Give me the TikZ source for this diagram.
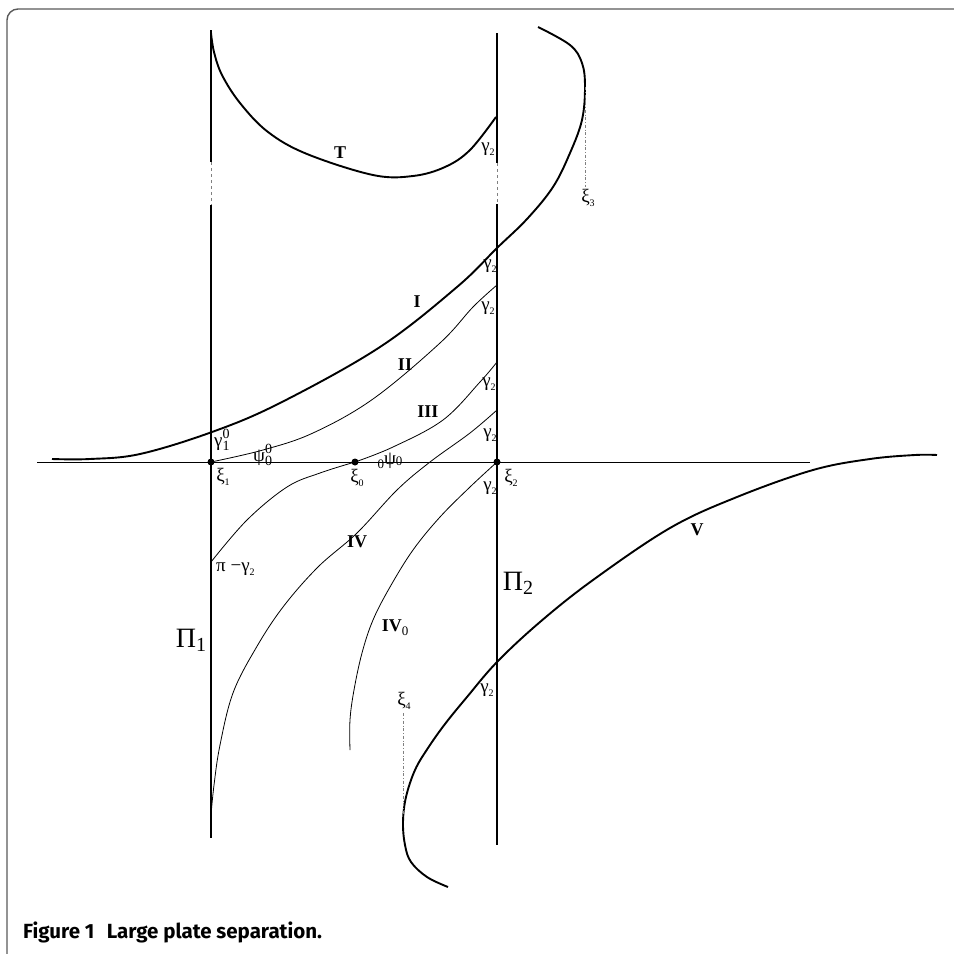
\documentclass[tikz,border=0pt]{standalone}
\usepackage{fontspec}
\setmainfont{Liberation Serif}
\newfontfamily\capfont{Fira Sans}
\newcommand\lsub[1]{\raisebox{-0.45ex}{\fontsize{10}{11}\selectfont #1}}
\newcommand\lsubsup[2]{\rlap{\raisebox{-0.5ex}{\fontsize{14}{15}\selectfont #1}}\raisebox{0.9ex}{\fontsize{14}{15}\selectfont #2}}
\begin{document}
\begin{tikzpicture}[x=1pt,y=-1pt,
  plate/.style={line width=2.4pt},
  thickc/.style={line width=1.9pt},
  thinc/.style={line width=0.8pt},
  gapline/.style={line width=0.5pt,dashed,gray},
  dashdot/.style={line width=0.5pt,dash dot,gray},
  dot/.style={circle,fill,inner sep=0,minimum size=7pt},
  lab/.style={font=\fontsize{19}{20}\selectfont,inner sep=0},
  blab/.style={font=\fontsize{18}{19}\selectfont\bfseries,inner sep=0},
  pilab/.style={font=\fontsize{28}{30}\selectfont,inner sep=0}]
\useasboundingbox (0,0) rectangle (954,954);
% frame
\draw[line width=1.4pt,gray!70!black,rounded corners=11pt] (7,9) rectangle (980,980);
% plates
\draw[plate] (211,30) -- (211,162);
\draw[gapline] (211,162) -- (211,205);
\draw[plate] (211,205) -- (211,838);
\draw[plate] (497,33) -- (497,163);
\draw[gapline] (497,163) -- (497,204);
\draw[plate] (497,204) -- (497,845);
% axis
\draw[thinc] (37,462) -- (810,462);
\node[dot] (xi1) at (211,462) {};
\node[dot] (xi0) at (355,462) {};
\node[dot] (xi2) at (497,462) {};
% curve T
\draw[thickc] plot[smooth,tension=0.6] coordinates {(211,33) (214,52) (222,75) (240,103) (268,132) (307,154) (373,175) (413,176) (445,167) (470,150) (496,117)};
% curve I
\draw[thickc] plot[smooth,tension=0.6] coordinates {(52,459) (90,459) (140,454) (212,432) (280,403) (380,347) (457,287) (497,248) (527,219) (553,187) (570,153) (582,120) (585,87) (582,63) (570,45) (538,27)};
% curve II
\draw[thinc] plot[smooth,tension=0.6] coordinates {(xi1.center) (263,450) (313,433) (373,399) (440,343) (473,307) (497,285)};
% curve III
\draw[thinc] plot[smooth,tension=0.6] coordinates {(xi0.center) (393,447) (443,420) (480,382) (497,362)};
% curve IV
\draw[thinc] plot[smooth,tension=0.6] coordinates {(497,410) (470,433) (430,462) (397,490) (357,533) (318,567) (283,607) (256,648) (233,693) (220,745) (214,785) (211,815)};
% curve xi0 -> Pi1
\draw[thinc] plot[smooth,tension=0.6] coordinates {(xi0.center) (320,473) (287,487) (247,520) (211,562)};
% curve IV0
\draw[thinc] plot[smooth,tension=0.6] coordinates {(xi2.center) (470,487) (440,517) (413,550) (390,587) (373,620) (362,653) (354,690) (350,720) (350,750)};
% curve V
\draw[thickc] plot[smooth,tension=0.6] coordinates {(448,887) (427,877) (411,862) (405,845) (403,822) (406,797) (415,770) (428,748) (445,724) (467,697) (497,662) (540,622) (593,580) (670,528) (737,497) (813,470) (870,459) (915,455) (937,455)};
% dash-dot markers
\coordinate (x3a) at (585,87); \coordinate (x3b) at (585,187);
\draw[dashdot] (x3a) -- (x3b);
\coordinate (x4a) at (403,713); \coordinate (x4b) at (403,815);
\draw[dashdot] (x4a) -- (x4b);
% labels
\node[blab] (lT) at (340,153) {T};
\node[lab] (g0) at (488,149) {γ\lsub{2}};
\node[blab] (lI) at (417,302) {I};
\node[lab] (g1) at (490,266) {γ\lsub{2}};
\node[blab] (lII) at (405,365) {II};
\node[lab] (g2) at (488,308) {γ\lsub{2}};
\node[blab] (lIII) at (428,412) {III};
\node[lab] (g3) at (489,384) {γ\lsub{2}};
\node[lab] (g4) at (490,435) {γ\lsub{2}};
\node[lab,anchor=west] (g10) at (214,440) {γ\lsubsup{1}{0}\hspace{7pt}};
\node[lab,anchor=west] (p00) at (253,455) {ψ\lsubsup{0}{0}\hspace{7pt}};
\node[lab] (l0p0) at (390,461) {\raisebox{-0.5ex}{\fontsize{13}{14}\selectfont 0}ψ\raisebox{-0.1ex}{\fontsize{13}{14}\selectfont 0}};
\node[lab] (lx1) at (223,477) {ξ\lsub{1}};
\node[lab] (lx0) at (357,478) {ξ\lsub{0}};
\node[lab] (lx2) at (511,478) {ξ\lsub{2}};
\node[lab] (g5) at (490,488) {γ\lsub{2}};
\node[blab] (lIV) at (357,542) {IV};
\node[lab,anchor=west] (pg) at (216,569) {π −γ\lsub{2}};
\node[pilab] (P2) at (518,583) {Π\raisebox{-0.3ex}{\fontsize{20}{22}\selectfont 2}};
\node[pilab] (P1) at (191,640) {Π\raisebox{-0.3ex}{\fontsize{20}{22}\selectfont 1}};
\node[lab] (lIV0) at (395,628) {\textbf{\fontsize{18}{19}\selectfont IV}\lsub{\fontsize{13}{14}\selectfont 0}};
\node[lab] (lx4) at (404,701) {ξ\lsub{4}};
\node[lab] (g6) at (487,690) {γ\lsub{2}};
\node[blab] (lV) at (697,530) {V};
\node[lab] (lx3) at (588,198) {ξ\lsub{3}};
\node[anchor=base west,inner sep=0,font=\capfont\bfseries\fontsize{20.5}{22}\selectfont] (cap) at (23,938) {Figure 1\hspace{0.6em}Large plate separation.};
\end{tikzpicture}
\end{document}
